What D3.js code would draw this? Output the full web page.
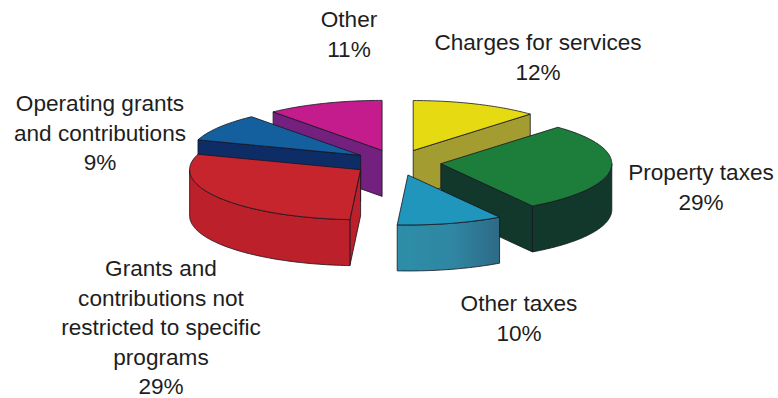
<!DOCTYPE html>
<html>
<head>
<meta charset="utf-8">
<script src="https://cdn.jsdelivr.net/npm/d3@7/dist/d3.min.js"></script>
<style>
  html, body { margin: 0; padding: 0; background: #fff; }
  svg { display: block; }
  text { font-family: "Liberation Sans", Arial, sans-serif; font-size: 22.6px; fill: #1e1e1e; text-anchor: middle; }
</style>
</head>
<body>
<svg id="chart" width="778" height="398"></svg>
<script>
// Revenue sources, in percent, clockwise from twelve o'clock
const categories = ["Charges for services", "Property taxes", "Other taxes",
  "Grants and contributions not restricted to specific programs",
  "Operating grants and contributions", "Other"];
const shares = [12, 29, 10, 29, 9, 11];
const labelLines = [
  ["Charges for services"],
  ["Property taxes"],
  ["Other taxes"],
  ["Grants and", "contributions not", "restricted to specific", "programs"],
  ["Operating grants", "and contributions"],
  ["Other"]
];
const topColors = ["#e6da12", "#1d7d3a", "#2096bd", "#c7252e", "#14609f", "#c41c8c"];
const sideColors = ["#a39c30", "#12382b", "url(#tealSide)", "#bb202b", "#0e2d66", "#74207e"];
const labelAnchors = [[538, 42], [701, 172], [519, 303], [161, 268], [100, 103], [349, 19]];

const svg = d3.select("#chart");

// The teal wall darkens towards its right-hand end
const teal = svg.append("defs").append("linearGradient").attr("id", "tealSide");
teal.append("stop").attr("offset", "0%").attr("stop-color", "#2d8ea8");
teal.append("stop").attr("offset", "55%").attr("stop-color", "#2f86a3");
teal.append("stop").attr("offset", "100%").attr("stop-color", "#2d6a86");

// Tilted-disc geometry
const centerX = 397, centerY = 162.5;
const radiusX = 171, radiusY = 50;
const explode = 44, depth = 46;
const lineHeight = 29.5;

const xScale = d3.scaleLinear().domain([-1, 1]).range([-radiusX, radiusX]);
const yScale = d3.scaleLinear().domain([-1, 1]).range([radiusY, -radiusY]);

const pie = d3.pie().sort(null).value(d => d)
  .startAngle(0).endAngle(2 * Math.PI);
const line = d3.line();

// Position at a clockwise angle from north, at fraction r of the radius
const project = (angle, r, c, drop = 0) => [
  c[0] + xScale(Math.sin(angle) * r),
  c[1] + yScale(Math.cos(angle) * r) + drop
];

const arcAngles = (a0, a1) => {
  const steps = Math.max(2, Math.ceil((a1 - a0) / 0.02));
  return d3.range(steps + 1).map(i => a0 + (a1 - a0) * i / steps);
};

const slices = pie(shares).map((s, i) => {
  const mid = (s.startAngle + s.endAngle) / 2;
  return { ...s, i, center: project(mid, explode / radiusX, [centerX, centerY]) };
}).sort((a, b) => a.center[1] - b.center[1]);

const outline = { stroke: "#15151f", width: 0.8 };

const drawFace = (group, pts, fill) => group.append("path")
  .attr("d", line(pts) + "Z")
  .attr("fill", fill)
  .attr("stroke", outline.stroke)
  .attr("stroke-width", outline.width)
  .attr("stroke-linejoin", "round");

// Radial wall between the apex and the rim at one angle
const wall = (s, angle) => {
  const apex = s.center;
  const rim = project(angle, 1, s.center);
  return [apex, rim, [rim[0], rim[1] + depth], [apex[0], apex[1] + depth]];
};

slices.forEach(s => {
  const g = svg.append("g").attr("class", "slice");
  const side = sideColors[s.i];

  // Radial walls that face the viewer
  if (Math.cos(s.startAngle - Math.PI / 2) < 0) drawFace(g, wall(s, s.startAngle), side);
  if (Math.cos(s.endAngle + Math.PI / 2) < 0) drawFace(g, wall(s, s.endAngle), side);

  // Curved outer wall, only on the near half of the disc
  const r0 = Math.max(s.startAngle, Math.PI / 2);
  const r1 = Math.min(s.endAngle, 3 * Math.PI / 2);
  if (r1 > r0) {
    const angles = arcAngles(r0, r1);
    const upper = angles.map(a => project(a, 1, s.center));
    const lower = angles.slice().reverse().map(a => project(a, 1, s.center, depth));
    drawFace(g, upper.concat(lower), side);
  }

  // Top face
  const rimPts = arcAngles(s.startAngle, s.endAngle).map(a => project(a, 1, s.center));
  drawFace(g, [s.center].concat(rimPts), topColors[s.i]);
});

// Labels: category lines followed by the share
labelLines.forEach((lines, i) => {
  const t = svg.append("text");
  const rows = lines.concat(shares[i] + "%");
  const [x, y] = labelAnchors[i];
  rows.forEach((row, k) => {
    t.append("tspan").attr("x", x).attr("y", y + k * lineHeight + 8).text(row);
  });
});
</script>
</body>
</html>
